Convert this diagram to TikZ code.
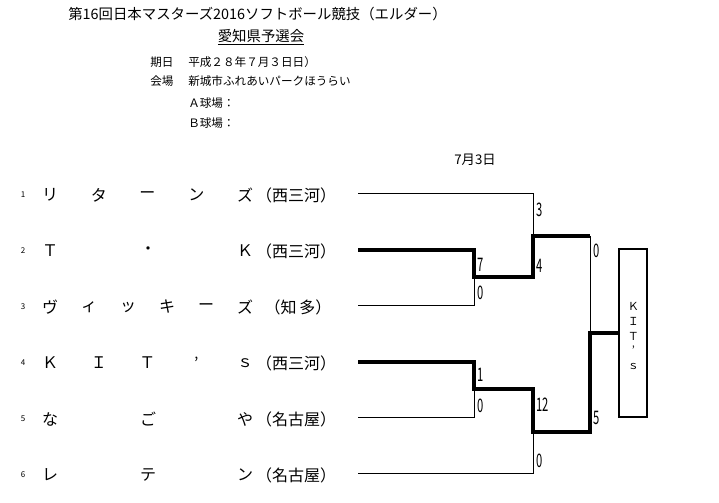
\documentclass[tikz,border=0pt]{standalone}
\usepackage{fontspec}
\setmainfont{Noto Sans CJK JP}
\begin{document}
\begin{tikzpicture}[x=0.75pt,y=-0.75pt,
  t/.style={inner sep=0pt,font=\fontsize{12}{12}\selectfont},
  small/.style={inner sep=0pt,font=\fontsize{8.7}{10}\selectfont},
  num/.style={inner sep=0pt,font=\fontsize{6}{7}\selectfont},
  sc/.style={inner sep=0pt,anchor=west,font=\fontsize{14}{14}\selectfont},
  thin/.style={line width=0.75pt},
  thk/.style={line width=2.3pt},
  boxs/.style={draw,line width=2.1pt,inner sep=0pt}]
\useasboundingbox (0,0) rectangle (719,503);
% header
\node[inner sep=0pt,font=\fontsize{10.8}{12}\selectfont] (title) at (257.5,14) {第16回日本マスターズ2016ソフトボール競技（エルダー）};
\node[inner sep=0pt,font=\fontsize{10.8}{12}\selectfont] (sub) at (261,37) {\underline{愛知県予選会}};
\node[small,anchor=west] (k1) at (150,62) {期日};
\node[small,anchor=west] (k2) at (188,62) {平成２８年７月３日日）};
\node[small,anchor=west] (k3) at (150,81) {会場};
\node[small,anchor=west] (k4) at (188,81) {新城市ふれあいパークほうらい};
\node[small,anchor=west] (k5) at (188,103) {Ａ球場：};
\node[small,anchor=west] (k6) at (188,123) {Ｂ球場：};
\node[inner sep=0pt,font=\fontsize{10}{10}\selectfont] (date) at (475,160) {7月3日};
% row numbers
\foreach \i/\y in {1/195,2/251,3/307,4/363,5/419,6/475}{
  \node[num] (n\i) at (23,\y) {\i};
}
% team names
\foreach \c [count=\k] in {リ,タ,ー,ン,ズ}{\node[t] (a\k) at ({50+48.75*(\k-1)},195) {\c};}
\node[t] (a6) at (296,195) {（西三河）};
\foreach \c/\xx [count=\k] in {Ｔ/50,・/148,Ｋ/245}{\node[t] (b\k) at (\xx,251) {\c};}
\node[t] (b4) at (296,251) {（西三河）};
\foreach \c [count=\k] in {ヴ,ィ,ッ,キ,ー,ズ}{\node[t] (c\k) at ({50+39*(\k-1)},307) {\c};}
\node[t] (c7) at (298,307) {（知\,多）};
\foreach \c [count=\k] in {Ｋ,Ｉ,Ｔ,’,ｓ}{\node[t] (d\k) at ({50+48.75*(\k-1)},363) {\c};}
\node[t] (d6) at (296,363) {（西三河）};
\foreach \c/\xx [count=\k] in {な/50,ご/148,や/245}{\node[t] (e\k) at (\xx,419) {\c};}
\node[t] (e4) at (296,419) {（名古屋）};
\foreach \c/\xx [count=\k] in {レ/50,テ/148,ン/245}{\node[t] (f\k) at (\xx,475) {\c};}
\node[t] (f4) at (296,475) {（名古屋）};
% bracket coordinates
\coordinate (L1) at (358,194); \coordinate (L2) at (358,250); \coordinate (L3) at (358,306);
\coordinate (L4) at (358,362); \coordinate (L5) at (358,417); \coordinate (L6) at (358,473);
\coordinate (m1) at (474,277); \coordinate (m2) at (474,389);
\coordinate (s1) at (533,236); \coordinate (s2) at (533,432);
\coordinate (f) at (590,333);
% winner box
\node[boxs,minimum width=28*0.75pt,minimum height=168*0.75pt] (win) at (633,333) {};
\node[inner sep=0pt,font=\fontsize{8.3}{11.2}\selectfont,align=center] (wt) at (633.5,336) {Ｋ\\Ｉ\\Ｔ\\’\\ｓ};
% lines
\draw[thin] (L1) -| (s1);
\draw[thin] (L3) -| (m1);
\draw[thin] (L5) -| (m2);
\draw[thin] (L6) -| (s2);
\draw[thin] (s1 -| f) -- (f);
\draw[thk] (L2) -| (m1) -| (s1) -- (s1 -| f);
\draw[thk] (L4) -| (m2) -| (s2) -| (f) -- (win.west);
% scores
\node[sc] (p1) at (536,210) {\scalebox{0.6}[1]{3}};
\node[sc] (p2) at (477,265) {\scalebox{0.6}[1]{7}};
\node[sc] (p3) at (536,266) {\scalebox{0.6}[1]{4}};
\node[sc] (p4) at (477,293) {\scalebox{0.6}[1]{0}};
\node[sc] (p5) at (593,251) {\scalebox{0.6}[1]{0}};
\node[sc] (p6) at (477,375) {\scalebox{0.6}[1]{1}};
\node[sc] (p7) at (477,406) {\scalebox{0.6}[1]{0}};
\node[sc] (p8) at (536,405) {\scalebox{0.6}[1]{12}};
\node[sc] (p9) at (593,418) {\scalebox{0.6}[1]{5}};
\node[sc] (p10) at (536,461) {\scalebox{0.6}[1]{0}};
\end{tikzpicture}
\end{document}
